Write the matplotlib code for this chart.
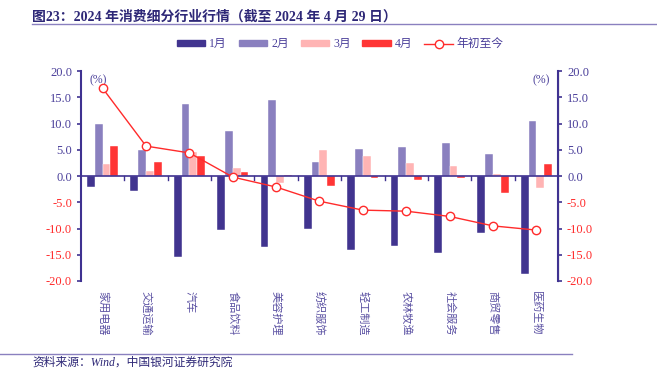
import matplotlib.pyplot as plt
import numpy as np
from matplotlib.lines import Line2D
from matplotlib.patches import Patch

plt.rcParams['font.family'] = ['Liberation Serif', 'Noto Sans CJK SC', 'DejaVu Sans']

categories = ["家用电器", "交通运输", "汽车", "食品饮料", "美容护理", "纺织服饰",
              "轻工制造", "农林牧渔", "社会服务", "商贸零售", "医药生物"]
jan = [-2.0, -2.8, -15.5, -10.2, -13.5, -10.1, -14.1, -13.3, -14.7, -10.8, -18.7]
feb = [9.9, 5.0, 13.7, 8.6, 14.4, 2.7, 5.1, 5.5, 6.3, 4.2, 10.5]
mar = [2.3, 1.0, 4.6, 1.5, -1.3, 5.0, 3.8, 2.5, 2.0, 0.4, -2.2]
apr = [5.8, 2.6, 3.8, 0.7, 0.1, -1.9, -0.4, -0.7, -0.4, -3.2, 2.2]
ytd = [16.7, 5.7, 4.4, -0.2, -2.1, -4.8, -6.5, -6.7, -7.7, -9.5, -10.3]
yticks = [20, 15, 10, 5, 0, -5, -10, -15, -20]

NAVY = "#3f3291"
BLUE_TXT = "#4a3f9a"
C_JAN = "#41348f"
C_FEB = "#8a80bf"
C_MAR = "#ffb4b4"
C_APR = "#ff3535"
RED = "#ff2b2b"

fig = plt.figure(figsize=(6.57, 3.69), dpi=100)
ax = fig.add_axes([0.1233, 0.2385, 0.726, 0.569])

x = np.arange(len(categories))
w = 0.18
series = [(jan, C_JAN, "1月"), (feb, C_FEB, "2月"), (mar, C_MAR, "3月"), (apr, C_APR, "4月")]
for i, (vals, c, lab) in enumerate(series):
    ax.bar(x + (i - 1.5) * w, vals, width=w, color=c, edgecolor="white", linewidth=0.3, zorder=2)

ax.plot(x, ytd, color=RED, lw=1.0, marker="o", ms=6, mfc="white", mec=RED, mew=1.0, zorder=4)

ax.set_xlim(-0.5, len(categories) - 0.5)
ax.set_ylim(-20, 20)
ax.axhline(0, color=NAVY, lw=1.2, zorder=3)
# small ticks on zero line between groups
for b in np.arange(0.5, len(categories) - 0.5, 1.0):
    ax.plot([b, b], [0, -0.7], color=NAVY, lw=1.0, zorder=3)

for s in ["top", "bottom"]:
    ax.spines[s].set_visible(False)
ax.spines["left"].set_color(NAVY)
ax.spines["left"].set_linewidth(1.5)
ax.set_xticks(x)
ax.set_xticklabels(categories, rotation=270, fontsize=8, color="#5a50a2",
                   family=['Noto Sans CJK SC'])
ax.tick_params(axis="x", length=0, pad=7)

ax.set_yticks(yticks)
ax.set_yticklabels([f"{v:.1f}" for v in yticks], fontsize=9)
ax.tick_params(axis="y", colors=NAVY, length=3, width=1.2)
for t, v in zip(ax.get_yticklabels(), yticks):
    t.set_color(BLUE_TXT if v >= 0 else RED)

ax2 = ax.twinx()
ax2.set_ylim(-20, 20)
for s in ["top", "bottom", "left"]:
    ax2.spines[s].set_visible(False)
ax2.spines["right"].set_color(NAVY)
ax2.spines["right"].set_linewidth(1.5)
ax2.set_yticks(yticks)
ax2.set_yticklabels([f"{v:.1f}" for v in yticks], fontsize=9)
ax2.tick_params(axis="y", colors=NAVY, length=3, width=1.2)
for t, v in zip(ax2.get_yticklabels(), yticks):
    t.set_color(BLUE_TXT if v >= 0 else RED)

ax.text(0.018, 0.985, "(%)", transform=ax.transAxes, fontsize=8.5, color=BLUE_TXT, va="top")
ax.text(0.982, 0.985, "(%)", transform=ax.transAxes, fontsize=8.5, color=BLUE_TXT, va="top", ha="right")

handles = [Patch(color=c) for _, c, _ in series]
handles.append(Line2D([], [], color=RED, lw=1.0, marker="o", ms=6, mfc="white", mec=RED))
labels = [lab for _, _, lab in series] + ["年初至今"]
leg = fig.legend(handles, labels, loc="center", bbox_to_anchor=(0.518, 0.88), ncol=5,
                 frameon=False, handlelength=2.4, handleheight=0.45,
                 columnspacing=1.0, handletextpad=0.35,
                 prop={'family': ['Liberation Serif', 'Noto Sans CJK SC'], 'size': 8.5})
for t in leg.get_texts():
    t.set_color(BLUE_TXT)

fig.text(0.049, 0.955, "图23：2024 年消费细分行业行情（截至 2024 年 4 月 29 日）",
         fontsize=10, fontweight="bold", color="#2e2877", va="center",
         family=['Liberation Serif', 'Noto Sans CJK SC'])
fig.add_artist(Line2D([0.049, 1.0], [0.934, 0.934], color="#8a80bf", lw=1.0))
fig.add_artist(Line2D([0.0, 0.87], [0.04, 0.04], color="#8a80bf", lw=1.0))
fig.text(0.049, 0.018, "资料来源：Wind，中国银河证券研究院", fontsize=8.5, style="italic",
         color="#2e2877", va="center", family=['Liberation Serif', 'Noto Sans CJK SC'])

fig.savefig("out.png", dpi=100)
